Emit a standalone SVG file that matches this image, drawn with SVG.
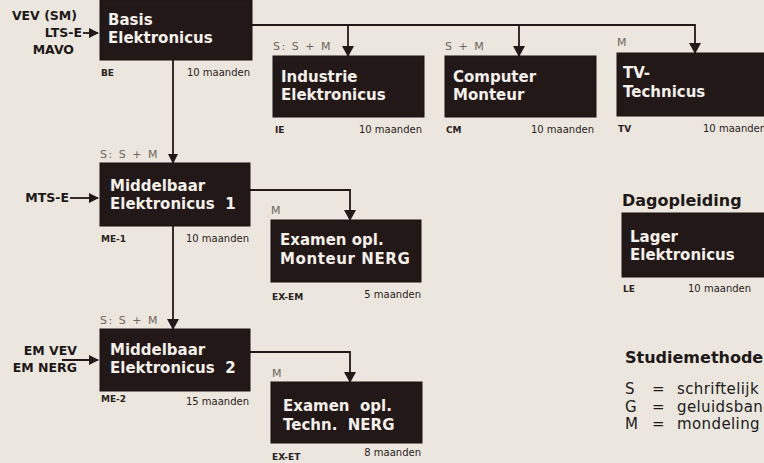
<svg xmlns="http://www.w3.org/2000/svg" width="764" height="463" viewBox="0 0 764 463">
  <defs>
    <marker id="ah" markerWidth="12" markerHeight="12" refX="10" refY="6" orient="auto" markerUnits="userSpaceOnUse">
      <path d="M0,0 L11,6 L0,12 z" fill="#221a1a"/>
    </marker>
    <marker id="ahs" markerWidth="10" markerHeight="10" refX="9" refY="5" orient="auto" markerUnits="userSpaceOnUse">
      <path d="M0,0 L10,5 L0,10 z" fill="#221a1a"/>
    </marker>
  </defs>
  <style>
    .bg { fill: #ebe7de; }
    .box { fill: #231818; stroke: #1a1212; stroke-width: 1; }
    .bt { font-family: "DejaVu Sans", "Open Sans", sans-serif; font-weight: 700; font-size: 15px; fill: #f4f0ea; }
    .code { font-family: "DejaVu Sans", sans-serif; font-weight: 700; font-size: 9px; fill: #2a2222; }
    .dur { font-family: "DejaVu Sans", sans-serif; font-size: 10px; fill: #2a2222; }
    .meth { font-family: "DejaVu Sans", sans-serif; font-size: 11px; letter-spacing: 1.5px; fill: #6e6660; }
    .in { font-family: "DejaVu Sans", sans-serif; font-weight: 700; font-size: 12.5px; fill: #201818; }
    .head { font-family: "DejaVu Sans", sans-serif; font-weight: 700; font-size: 16px; fill: #1e1818; }
    .leg { font-family: "DejaVu Sans", sans-serif; font-size: 15px; letter-spacing: 0.4px; fill: #201a1a; }
    .ln { fill: none; stroke: #221a1a; stroke-width: 1.8; }
  </style>
  <rect class="bg" x="0" y="0" width="764" height="463"/>

  <g id="connectors">
    <path class="ln" d="M252,25 H695 V53" marker-end="url(#ah)"/>
    <path class="ln" d="M348,25 V56" marker-end="url(#ah)"/>
    <path class="ln" d="M519,25 V56" marker-end="url(#ah)"/>
    <path class="ln" d="M173,60 V163" marker-end="url(#ahs)"/>
    <path class="ln" d="M173,226 V329" marker-end="url(#ah)"/>
    <path class="ln" d="M250,190 H350 V220" marker-end="url(#ah)"/>
    <path class="ln" d="M250,352 H350 V382" marker-end="url(#ah)"/>
    <path class="ln" d="M83,33 H98" marker-end="url(#ahs)"/>
    <path class="ln" d="M70,198 H98" marker-end="url(#ahs)"/>
    <path class="ln" d="M62,360 H98" marker-end="url(#ahs)"/>
  </g>

  <g id="inputs">
    <text class="in" x="77" y="20" text-anchor="end">VEV (SM)</text>
    <text class="in" x="82" y="37" text-anchor="end">LTS-E</text>
    <text class="in" x="74" y="54" text-anchor="end">MAVO</text>
    <text class="in" x="69" y="202" text-anchor="end">MTS-E</text>
    <text class="in" x="77" y="355" text-anchor="end">EM VEV</text>
    <text class="in" x="77" y="372" text-anchor="end">EM NERG</text>
  </g>

  <g id="basis">
    <rect class="box" x="100" y="0" width="152" height="60"/>
    <text class="bt" x="108" y="25">Basis</text>
    <text class="bt" x="108" y="43">Elektronicus</text>
    <text class="code" x="101" y="76">BE</text>
    <text class="dur" x="250" y="76" text-anchor="end">10 maanden</text>
  </g>

  <g id="industrie">
    <text class="meth" x="273" y="50">S: S + M</text>
    <rect class="box" x="273" y="56" width="151" height="61"/>
    <text class="bt" x="281" y="82">Industrie</text>
    <text class="bt" x="281" y="100">Elektronicus</text>
    <text class="code" x="275" y="133">IE</text>
    <text class="dur" x="422" y="133" text-anchor="end">10 maanden</text>
  </g>

  <g id="computer">
    <text class="meth" x="445" y="50">S + M</text>
    <rect class="box" x="445" y="56" width="151" height="61"/>
    <text class="bt" x="453" y="82">Computer</text>
    <text class="bt" x="453" y="100">Monteur</text>
    <text class="code" x="446" y="133">CM</text>
    <text class="dur" x="594" y="133" text-anchor="end">10 maanden</text>
  </g>

  <g id="tv">
    <text class="meth" x="617" y="46">M</text>
    <rect class="box" x="617" y="53" width="160" height="63"/>
    <text class="bt" x="623" y="78">TV-</text>
    <text class="bt" x="623" y="97">Technicus</text>
    <text class="code" x="618" y="132">TV</text>
    <text class="dur" x="703" y="132">10 maanden</text>
  </g>

  <g id="middelbaar1">
    <text class="meth" x="100" y="158">S: S + M</text>
    <rect class="box" x="100" y="163" width="150" height="63"/>
    <text class="bt" x="110" y="191">Middelbaar</text>
    <text class="bt" x="110" y="209" xml:space="preserve">Elektronicus  1</text>
    <text class="code" x="101" y="242">ME-1</text>
    <text class="dur" x="249" y="242" text-anchor="end">10 maanden</text>
  </g>

  <g id="examen-monteur">
    <text class="meth" x="271" y="214">M</text>
    <rect class="box" x="271" y="220" width="150" height="62"/>
    <text class="bt" x="280" y="245">Examen opl.</text>
    <text class="bt" x="280" y="264" letter-spacing="0.6">Monteur NERG</text>
    <text class="code" x="272" y="300">EX-EM</text>
    <text class="dur" x="421" y="298" text-anchor="end">5 maanden</text>
  </g>

  <g id="middelbaar2">
    <text class="meth" x="100" y="324">S: S + M</text>
    <rect class="box" x="100" y="329" width="150" height="62"/>
    <text class="bt" x="110" y="355">Middelbaar</text>
    <text class="bt" x="110" y="373" xml:space="preserve">Elektronicus  2</text>
    <text class="code" x="101" y="402">ME-2</text>
    <text class="dur" x="249" y="405" text-anchor="end">15 maanden</text>
  </g>

  <g id="examen-techn">
    <text class="meth" x="272" y="377">M</text>
    <rect class="box" x="271" y="382" width="151" height="61"/>
    <text class="bt" x="283" y="411" xml:space="preserve">Examen  opl.</text>
    <text class="bt" x="283" y="430" xml:space="preserve">Techn.  NERG</text>
    <text class="code" x="272" y="460">EX-ET</text>
    <text class="dur" x="421" y="456" text-anchor="end">8 maanden</text>
  </g>

  <g id="dagopleiding">
    <text class="head" x="622" y="206">Dagopleiding</text>
    <rect class="box" x="622" y="213" width="160" height="64"/>
    <text class="bt" x="630" y="242">Lager</text>
    <text class="bt" x="630" y="260">Elektronicus</text>
    <text class="code" x="623" y="292">LE</text>
    <text class="dur" x="688" y="292">10 maanden</text>
  </g>

  <g id="legend">
    <text class="head" x="625" y="363" font-size="17">Studiemethoden</text>
    <text class="leg" y="394"><tspan x="625">S</tspan><tspan x="652">=</tspan><tspan x="677">schriftelijk</tspan></text>
    <text class="leg" y="411.5"><tspan x="625">G</tspan><tspan x="652">=</tspan><tspan x="677">geluidsband</tspan></text>
    <text class="leg" y="429"><tspan x="625">M</tspan><tspan x="652">=</tspan><tspan x="677">mondeling</tspan></text>
  </g>
</svg>
